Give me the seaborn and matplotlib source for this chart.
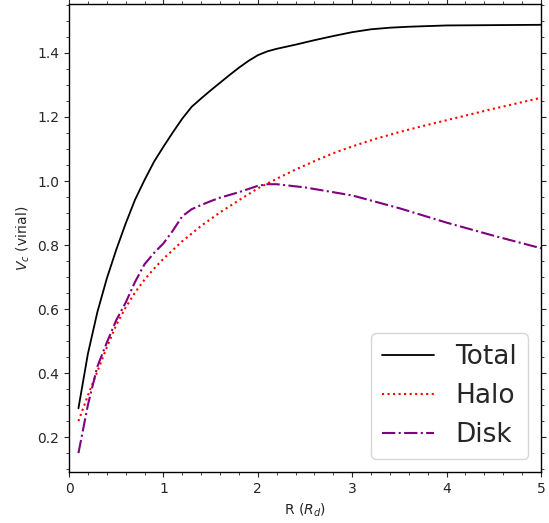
import matplotlib
matplotlib.use("Agg")
import matplotlib.pyplot as plt
from matplotlib.ticker import AutoMinorLocator
import pandas as pd
import seaborn as sns

# Rotation curve components, radius in disk scale lengths
r_total = [0.1, 0.2, 0.3, 0.4, 0.5, 0.6, 0.7, 0.8, 0.9, 1.0, 1.1, 1.2, 1.3, 1.4, 1.5,
           1.6, 1.7, 1.8, 1.9, 2.0, 2.1, 2.2, 2.4, 2.6, 2.8, 3.0, 3.2, 3.4, 3.6, 3.8,
           4.0, 4.5, 5.0]
v_total = [0.29, 0.46, 0.59, 0.695, 0.785, 0.867, 0.942, 1.003, 1.06, 1.107, 1.152,
           1.195, 1.232, 1.258, 1.283, 1.307, 1.331, 1.354, 1.375, 1.393, 1.405, 1.413,
           1.426, 1.44, 1.453, 1.465, 1.474, 1.479, 1.482, 1.484, 1.486, 1.487, 1.488]

r_halo = [0.1, 0.2, 0.3, 0.4, 0.5, 0.6, 0.7, 0.8, 0.9, 1.0, 1.2, 1.4, 1.6, 1.8, 2.0,
          2.2, 2.4, 2.6, 2.8, 3.0, 3.25, 3.5, 3.75, 4.0, 4.25, 4.5, 4.75, 5.0]
v_halo = [0.25, 0.33, 0.405, 0.48, 0.55, 0.605, 0.652, 0.692, 0.726, 0.757, 0.812,
          0.86, 0.902, 0.94, 0.977, 1.007, 1.036, 1.062, 1.087, 1.108, 1.132, 1.153,
          1.172, 1.19, 1.208, 1.226, 1.243, 1.26]

r_disk = [0.1, 0.2, 0.3, 0.4, 0.5, 0.6, 0.7, 0.8, 0.9, 1.0, 1.1, 1.2, 1.3, 1.4, 1.5,
          1.6, 1.8, 2.0, 2.1, 2.2, 2.5, 3.0, 3.5, 4.0, 4.5, 5.0]
v_disk = [0.15, 0.3, 0.42, 0.495, 0.565, 0.62, 0.685, 0.74, 0.775, 0.805, 0.845, 0.89,
          0.912, 0.925, 0.937, 0.948, 0.965, 0.985, 0.99, 0.99, 0.98, 0.955, 0.915,
          0.87, 0.829, 0.79]

total = pd.DataFrame({"R": r_total, "V": v_total})
halo = pd.DataFrame({"R": r_halo, "V": v_halo})
disk = pd.DataFrame({"R": r_disk, "V": v_disk})

sns.set_style("ticks")
plt.rcParams["font.family"] = ["DejaVu Sans"]

fig = plt.figure(figsize=(5.49, 5.23), dpi=100)
ax = fig.add_axes([69 / 549, 51 / 523, 472 / 549, 468 / 523])

sns.lineplot(data=total, x="R", y="V", ax=ax, color="black", linestyle="-",
             linewidth=1.3, label="Total")
sns.lineplot(data=halo, x="R", y="V", ax=ax, color="red", linestyle=":",
             linewidth=1.5, label="Halo")
sns.lineplot(data=disk, x="R", y="V", ax=ax, color="purple", linestyle="-.",
             linewidth=1.5, label="Disk")

ax.set_xlim(0, 5)
ax.set_ylim(0.091, 1.553)
ax.set_xlabel("R ($R_d$)", fontsize=10)
ax.set_ylabel("$V_c$ (virial)", fontsize=10)

ax.xaxis.set_minor_locator(AutoMinorLocator())
ax.yaxis.set_minor_locator(AutoMinorLocator())
ax.tick_params(which="both", direction="out", top=True, right=True, labelsize=10)
for side in ax.spines.values():
    side.set_visible(True)
    side.set_linewidth(1.0)
    side.set_color("black")

ax.legend(loc="lower right", fontsize=19)

fig.savefig("out.png", dpi=100)
